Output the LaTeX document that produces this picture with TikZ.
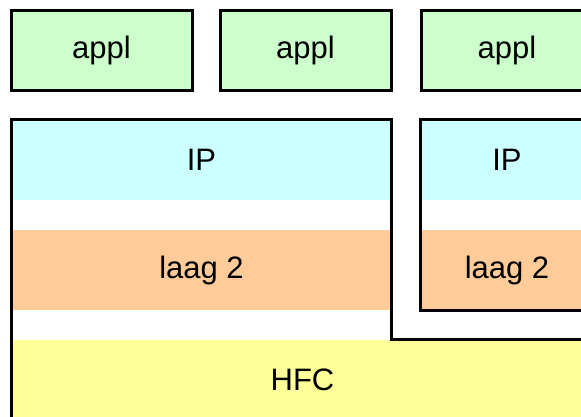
\documentclass[tikz,border=0pt]{standalone}
\usepackage{fontspec}
\setsansfont{Liberation Sans}
\usepackage{tikz}
\usetikzlibrary{positioning, calc}
\definecolor{applgreen}{HTML}{CCFFCC}
\definecolor{ipcyan}{HTML}{CCFFFF}
\definecolor{laagorange}{HTML}{FFCC99}
\definecolor{hfcyellow}{HTML}{FFFF99}
\tikzset{
  lbl/.style={font=\sffamily\fontsize{31}{37}\selectfont, text=black},
  applbox/.style={lbl, draw=black, line width=3pt, fill=applgreen, inner sep=0pt,
    minimum width=171, minimum height=80},
  band/.style={lbl, draw=none, inner sep=0pt, minimum height=80},
  outline/.style={draw=black, line width=3pt, line join=miter}
}

\begin{document}
\begin{tikzpicture}[x=1pt, y=-1pt]
  \useasboundingbox (0,0) rectangle (581,416);
  \clip (0,0) rectangle (581,416);
  % applications
  \node[applbox, minimum width=181] (appl1) at (101.5,50) {appl};
  \node[applbox] (appl2) at (305.5,50) {appl};
  \node[applbox, minimum width=172] (appl3) at (507,50) {appl};
  % left stack
  \node[band, fill=ipcyan, minimum width=379] (ipL) at (201.5,159.5) {IP};
  \node[band, fill=laagorange, minimum width=379] (laagL) at (201.5,270) {laag 2};
  \node[band, fill=hfcyellow, minimum width=581] (hfc) at (302.5,380) {HFC};
  % right stack
  \node[band, fill=ipcyan, minimum width=172] (ipR) at (507,159.5) {IP};
  \node[band, fill=laagorange, minimum width=172] (laagR) at (507,270) {laag 2};
  \draw[outline] (ipR.north west) rectangle (laagR.south east);
  \draw[outline] (hfc.south west) |- (ipL.north east) |- (hfc.north east);
\end{tikzpicture}
\end{document}
